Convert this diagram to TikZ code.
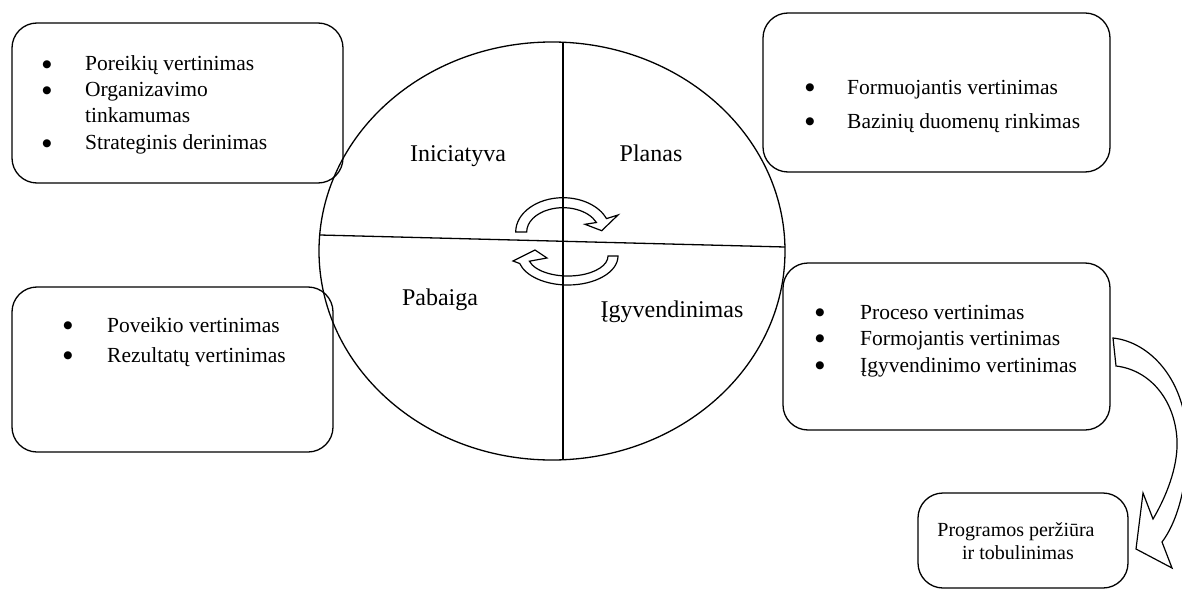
\documentclass[tikz,border=0pt]{standalone}
\usepackage{fontspec}
\setmainfont{Liberation Serif}
\newfontfamily\dejavu{DejaVu Sans}
\usetikzlibrary{shapes.geometric}
\begin{document}
\begin{tikzpicture}[x=1pt,y=-1pt,
  box/.style={draw, rounded corners=25pt, line width=1.3pt, inner sep=0pt},
  ln/.style={line width=1.3pt},
  txt/.style={anchor=base west, inner sep=0pt, font=\fontsize{21.5}{26}\selectfont},
  ctxt/.style={anchor=base, inner sep=0pt, font=\fontsize{20}{24}\selectfont},
  bul/.style={anchor=center, inner sep=0pt, font=\dejavu\fontsize{10.5}{11}\selectfont},
  lab/.style={anchor=base, inner sep=0pt, font=\fontsize{24}{28}\selectfont},
  barrow/.style={draw, line width=1.2pt, line join=miter}
]
\clip (0,0) rectangle (1182,596);
\useasboundingbox (0,0) rectangle (1182,596);

% central ellipse and dividing lines
\node[draw, ellipse, ln, minimum width=466pt, minimum height=418pt, inner sep=0pt] (circ) at (552,251) {};
\coordinate (vt) at (563,42.2);
\coordinate (vb) at (563,459.8);
\coordinate (hl) at (319.7,235);
\coordinate (hr) at (785,247);
\draw[ln] (vt) -- (vb);
\draw[ln] (hl) -- (hr);

% quadrant labels
\node[lab] (ini) at (458,161) {Iniciatyva};
\node[lab] (pla) at (651,161) {Planas};
\node[lab] (pab) at (440,305) {Pabaiga};
\node[lab] (igy) at (672,317) {Įgyvendinimas};

% central circular arrows
\draw[barrow] (515.7,232) arc[start angle=180, end angle=337, x radius=47.3, y radius=34.3]
  -- (618,215) -- (601.7,230.7) -- (585,224.3) -- (596.4,222.5)
  arc[start angle=337, end angle=180, x radius=36.3, y radius=24.3] -- cycle;
\draw[barrow] (618,256) arc[start angle=0, end angle=165, x radius=50, y radius=29]
  -- (513,261) -- (535,250) -- (547,258) -- (529.4,261.2)
  arc[start angle=165, end angle=0, x radius=40, y radius=20] -- cycle;

% box 1 (top left)
\node[box, minimum width=331pt, minimum height=160pt] (b1) at (177.5,103) {};
\node[bul] (b1d1) at (47,65) {●};
\node[txt] (b1t1) at (85,71) {Poreikių vertinimas};
\node[bul] (b1d2) at (47,91) {●};
\node[txt] (b1t2) at (85,97) {Organizavimo};
\node[txt] (b1t3) at (85,123) {tinkamumas};
\node[bul] (b1d3) at (47,144) {●};
\node[txt] (b1t4) at (85,150) {Strateginis derinimas};

% box 2 (top right)
\node[box, minimum width=347pt, minimum height=159pt] (b2) at (936.5,92.5) {};
\node[bul] (b2d1) at (810,88) {●};
\node[txt] (b2t1) at (847,95) {Formuojantis vertinimas};
\node[bul] (b2d2) at (810,122) {●};
\node[txt] (b2t2) at (847,129) {Bazinių duomenų rinkimas};

% box 3 (bottom left)
\node[box, minimum width=321pt, minimum height=165pt] (b3) at (172.5,369.5) {};
\node[bul] (b3d1) at (68,326) {●};
\node[txt] (b3t1) at (107,332) {Poveikio vertinimas};
\node[bul] (b3d2) at (68,356) {●};
\node[txt] (b3t2) at (107,362) {Rezultatų vertinimas};

% box 4 (right middle)
\node[box, minimum width=327pt, minimum height=167pt] (b4) at (946.5,346.5) {};
\node[bul] (b4d1) at (820,313) {●};
\node[txt] (b4t1) at (860,319) {Proceso vertinimas};
\node[bul] (b4d2) at (820,339) {●};
\node[txt] (b4t2) at (860,345) {Formojantis vertinimas};
\node[bul] (b4d3) at (820,366) {●};
\node[txt] (b4t3) at (860,372) {Įgyvendinimo vertinimas};

% box 5 (bottom right)
\node[box, minimum width=210pt, minimum height=95pt] (b5) at (1023,540.5) {};
\node[ctxt] (b5t1) at (1016,536) {Programos peržiūra};
\node[ctxt] (b5t2) at (1018,559) {ir tobulinimas};

% curved block arrow from box 4 to box 5
\draw[barrow] (1113,338) .. controls (1150,342) and (1186,380) .. (1187,440)
  .. controls (1188,490) and (1175,525) .. (1162,542)
  -- (1172,568) -- (1136,549) -- (1143,493) -- (1153,519)
  .. controls (1170,490) and (1178,462) .. (1177,440)
  .. controls (1175,400) and (1150,370) .. (1116,366) -- cycle;
\end{tikzpicture}
\end{document}
